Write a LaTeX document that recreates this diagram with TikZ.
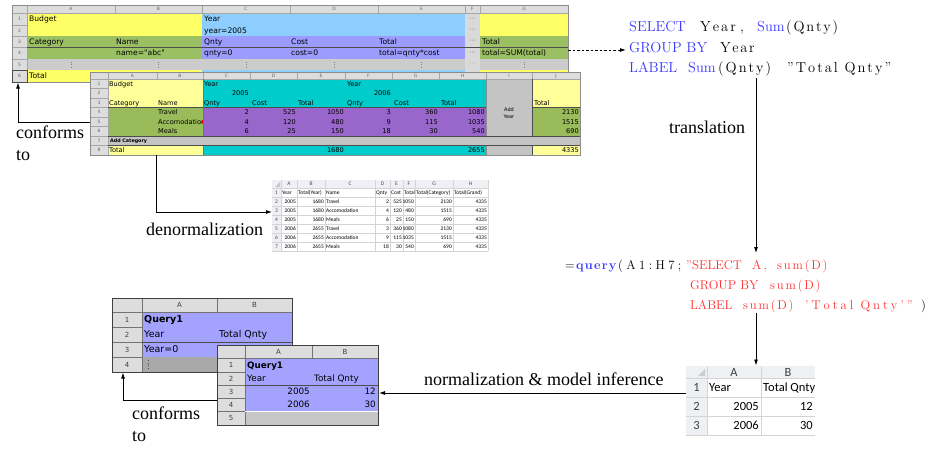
\documentclass[tikz,border=0pt]{standalone}
\usepackage{fontspec}
\usetikzlibrary{arrows.meta}
\newfontfamily\dvs{DejaVu Sans}
\newfontfamily\carl{Carlito}
\newfontfamily\tms{Liberation Serif}

% spread the characters of a word apart, listing style
\makeatletter
\newdimen\lspk
\newcommand\lsp[2]{\lspk=#1pt\relax\lsp@a#2\@nil}
\def\lsp@a#1{\ifx#1\@nil\else#1\kern\lspk\expandafter\lsp@a\fi}
\makeatother

\definecolor{yelA}{HTML}{FFFF66}
\definecolor{bluA}{HTML}{8ECEFF}
\definecolor{grnA}{HTML}{9BC063}
\definecolor{lavA}{HTML}{9C9CFF}
\definecolor{gryA}{HTML}{CCCCCC}
\definecolor{dotA}{HTML}{D9D9D9}
\definecolor{yelB}{HTML}{FFFF99}
\definecolor{cyaB}{HTML}{00CCCC}
\definecolor{purB}{HTML}{9966CC}
\definecolor{grnB}{HTML}{99BB59}
\definecolor{gryB}{HTML}{C4C4C4}
\definecolor{lavC}{HTML}{A3A3FF}
\definecolor{gryC}{HTML}{A8A8A8}
\definecolor{gryD}{HTML}{C6C6C6}
\definecolor{hdrO}{HTML}{DDDDDD}
\definecolor{hdrX}{HTML}{EEF0F3}
\definecolor{gridX}{HTML}{D4D4D4}
\definecolor{kwblue}{HTML}{3838FF}
\definecolor{strred}{HTML}{FF3030}

\begin{document}
\begin{tikzpicture}[x=1pt,y=-1pt,
  oo/.style={font=\dvs\fontsize{7.6}{9}\selectfont, inner sep=0pt, anchor=west, text height=5.5pt, text depth=0pt},
  ooB/.style={font=\dvs\fontsize{6.6}{8}\selectfont, inner sep=0pt, anchor=west, text height=4.8pt, text depth=0pt},
  ooBR/.style={ooB, anchor=east},
  hdrtxt/.style={font=\dvs\fontsize{4.5}{5}\selectfont, text=black!60, inner sep=0pt, text height=3.3pt, text depth=0pt},
  ell/.style={font=\dvs\fontsize{6}{7}\selectfont, text=black!60, inner sep=0pt},
  xs/.style={font=\carl\fontsize{5.5}{6}\selectfont, inner sep=0pt, text height=3.6pt, text depth=0pt},
  xl/.style={font=\carl\fontsize{12.5}{14}\selectfont, inner sep=0pt, text height=8pt, text depth=0pt},
  qa/.style={font=\dvs\fontsize{9.5}{11}\selectfont, inner sep=0pt, anchor=west, text height=6.9pt, text depth=0pt},
  qb/.style={font=\dvs\fontsize{8.8}{10}\selectfont, inner sep=0pt, anchor=west, text height=6.4pt, text depth=0pt},
  qh/.style={font=\dvs\fontsize{7}{8}\selectfont, text=black!75, inner sep=0pt, text height=5pt, text depth=0pt},
  lbl/.style={font=\tms\fontsize{18}{22}\selectfont, inner sep=0pt},
  sql/.style={font=\fontsize{14.5}{17}\selectfont, inner sep=0pt, anchor=base west},
  fml/.style={font=\fontsize{12.7}{15}\selectfont, inner sep=0pt, anchor=base west, text=strred},
  arr/.style={-{Latex[length=6pt,width=4pt]}, line width=0.8pt},
  hl/.style={black!35, line width=0.4pt},
  dk/.style={black!70, line width=0.6pt}]
\useasboundingbox (0,0) rectangle (929,448);

% ================= budget template sheet =================
\fill[hdrO] (12,5) rectangle (568,13);
\fill[hdrO] (12,13) rectangle (27,82);
\fill[yelA] (27,13) rectangle (202,36);
\fill[bluA] (202,13) rectangle (465,36);
\fill[yelA] (480,13) rectangle (568,36);
\fill[grnA] (27,36) rectangle (202,59);
\fill[lavA] (202,36) rectangle (465,59);
\fill[grnA] (480,36) rectangle (568,59);
\fill[gryA] (27,59) rectangle (465,70);
\fill[gryA] (480,59) rectangle (568,70);
\fill[dotA] (465,13) rectangle (480,82);
\fill[yelA] (27,70) rectangle (202,82);
\fill[bluA] (202,70) rectangle (465,82);
\fill[yelA] (480,70) rectangle (568,82);
\draw[hl] (12,13) -- (568,13);
\foreach \x in {27,115,202,290,378,465,480,568} \draw[hl] (\x,5) -- (\x,13);
\foreach \y in {25,36,47,59,70} \draw[hl] (12,\y) -- (27,\y);
\draw[hl] (27,13) -- (27,82);
\draw[dk] (27,47) -- (568,47);
\draw[black!45, line width=0.4pt] (12,5) rectangle (568,82);
\draw[black!70, line width=0.6pt] (12,70) rectangle (27,82);
\foreach \c/\x in {A/71,B/158.5,C/246,D/334,E/421.5,F/472.5,G/524}
  \node[hdrtxt] (s1c\c) at (\x,9) {\c};
\foreach \r/\y in {1/19,2/30.5,3/41.5,4/53,5/64.5,6/76}
  \node[hdrtxt] (s1r\r) at (19.5,\y) {\r};

\node[oo] (tBudget) at (29,19) {Budget};
\node[oo] (tYear) at (204,19) {Year};
\node[oo] (tYeq) at (204,30.5) {year=2005};
\node[oo] (tCat) at (29,41.5) {Category};
\node[oo] (tName) at (116,41.5) {Name};
\node[oo] (tQnty) at (204,41.5) {Qnty};
\node[oo] (tCost) at (291,41.5) {Cost};
\node[oo] (tTot) at (379,41.5) {Total};
\node[oo] (tGTot) at (482,41.5) {Total};
\node[oo] (tNeq) at (116,53) {name="abc"};
\node[oo] (tQeq) at (204,53) {qnty=0};
\node[oo] (tCeq) at (291,53) {cost=0};
\node[oo] (tTeq) at (379,53) {total=qnty*cost};
\node[oo] (tSeq) at (482,53) {total=SUM(total)};
\node[oo] (tTotal) at (29,76) {Total};
\foreach \y [count=\i] in {19,30.5,41.5,53}
  \node[ell] (s1f\i) at (472.5,\y) {⋯};
\node[ell, text=black!30] (s1f5) at (472.5,64.5) {⋯};
\foreach \x in {71,158.5,246,334,421.5,524}
  \draw[black!50, dotted, line width=0.6pt] (\x,61.5) -- (\x,68);

% ================= filled-in budget sheet =================
\fill[hdrO] (90,72) rectangle (580,79);
\fill[hdrO] (90,79) rectangle (108,155);
\fill[yelB] (108,79) rectangle (203,107.5);
\fill[cyaB] (203,79) rectangle (486,107.5);
\fill[gryB] (486,79) rectangle (532,136);
\fill[yelB] (532,79) rectangle (580,107.5);
\fill[grnB] (108,107.5) rectangle (203,136);
\fill[purB] (203,107.5) rectangle (486,136);
\fill[grnB] (532,107.5) rectangle (580,136);
\fill[gryB] (108,136) rectangle (580,145.5);
\fill[yelB] (108,145.5) rectangle (203,155);
\fill[cyaB] (203,145.5) rectangle (486,155);
\fill[gryB] (486,145.5) rectangle (532,155);
\fill[yelB] (532,145.5) rectangle (580,155);
\draw[hl] (90,79) -- (580,79);
\foreach \x in {108,157,203,250,297,345,392,439,486,532,580} \draw[hl] (\x,72) -- (\x,79);
\foreach \y in {88.5,98,107.5,117,126.5,136,145.5} \draw[hl] (90,\y) -- (108,\y);
\draw[hl] (108,79) -- (108,155);
\draw[dk] (108,107.5) -- (486,107.5);
\draw[dk] (532,107.5) -- (580,107.5);
\draw[dk] (108,136) -- (580,136);
\draw[dk] (108,145.5) -- (580,145.5);
\draw[black!55, line width=0.4pt] (203,79) -- (203,136) (203,145.5) -- (203,155);
\draw[dk] (532,79) -- (532,136) (532,145.5) -- (532,155);
\draw[black!45, line width=0.4pt] (486,79) -- (486,136) (486,145.5) -- (486,155);
\draw[black!45, line width=0.4pt] (90,72) rectangle (580,155);
\foreach \c/\x in {A/132.5,B/180,C/226.5,D/273.5,E/321,F/368.5,G/415.5,H/462.5,I/509,J/556}
  \node[hdrtxt] (s2c\c) at (\x,75.5) {\c};
\foreach \r in {1,...,8}
  \node[hdrtxt] (s2r\r) at (99,{74.25+9.5*\r}) {\r};

\node[ooB] (bBudget) at (109,83.75) {Budget};
\node[ooB] (bYear1) at (204,83.75) {Year};
\node[ooB] (bYear2) at (347,83.75) {Year};
\node[ooBR] (b2005) at (249,93.25) {2005};
\node[ooBR] (b2006) at (391,93.25) {2006};
\node[ooB] (bCat) at (109,102.75) {Category};
\node[ooB] (bName) at (158,102.75) {Name};
\node[ooB] (bQ1) at (204,102.75) {Qnty};
\node[ooB] (bC1) at (252,102.75) {Cost};
\node[ooB] (bT1) at (298,102.75) {Total};
\node[ooB] (bQ2) at (347,102.75) {Qnty};
\node[ooB] (bC2) at (394,102.75) {Cost};
\node[ooB] (bT2) at (441,102.75) {Total};
\node[ooB] (bTJ) at (534,102.75) {Total};
\node[ooB] (bTravel) at (158,112.25) {Travel};
\begin{scope}
  \clip (157,117) rectangle (202.5,126.5);
  \node[ooB] (bAcc) at (158,121.75) {Accomodation};
\end{scope}
\fill[red] (203,120) -- (203,123.5) -- (200.5,121.75) -- cycle;
\node[ooB] (bMeals) at (158,131.25) {Meals};
\foreach \x/\a/\b/\c in {249/2/4/6, 296/525/120/25, 344/1050/480/150, 391/3/9/18,
    438/360/115/30, 485/1080/1035/540, 579/2130/1515/690} {
  \node[ooBR] (v\x a) at (\x,112.25) {\a};
  \node[ooBR] (v\x b) at (\x,121.75) {\b};
  \node[ooBR] (v\x c) at (\x,131.25) {\c};
}
\node[ooB, font=\dvs\bfseries\fontsize{4.8}{6}\selectfont, text height=3.5pt] (bAddCat) at (110,140.75) {Add Category};
\node[ooB, anchor=center, align=center, font=\dvs\fontsize{5}{7}\selectfont] (bAddYear) at (509,116.5) {Add\\Year};
\node[ooB] (bTotal) at (109,150.25) {Total};
\node[ooBR] (b1680) at (344,150.25) {1680};
\node[ooBR] (b2655) at (485,150.25) {2655};
\node[ooBR] (b4335) at (579,150.25) {4335};

% ================= denormalized table =================
\fill[white] (272,180) rectangle (488,251);
\fill[hdrX] (272,180) rectangle (488,188);
\fill[hdrX] (272,188) rectangle (281,251);
\foreach \x in {281,297,325,375,390,403,415,453,488} \draw[gridX, line width=0.35pt] (\x,180) -- (\x,251);
\foreach \y in {188,197,206,215,224,233,242,251} \draw[gridX, line width=0.35pt] (272,\y) -- (488,\y);
\fill[black!22] (280,187) -- (280,182) -- (275,187) -- cycle;
\foreach \c/\x in {A/289,B/311,C/350,D/382.5,E/396.5,F/409,G/434,H/470.5}
  \node[xs, text=black!70] (dc\c) at (\x,184) {\c};
\foreach \r in {1,...,7}
  \node[xs, text=black!70] (dr\r) at (276.5,{183.5+9*\r}) {\r};
\node[xs, anchor=west] (dh1) at (282,192.5) {Year};
\node[xs, anchor=west] (dh2) at (298,192.5) {Total(Year)};
\node[xs, anchor=west] (dh3) at (326,192.5) {Name};
\node[xs, anchor=west] (dh4) at (376,192.5) {Qnty};
\node[xs, anchor=west] (dh5) at (391,192.5) {Cost};
\node[xs, anchor=west] (dh6) at (404,192.5) {Total};
\node[xs, anchor=west] (dh7) at (416,192.5) {Total(Category)};
\node[xs, anchor=west] (dh8) at (454,192.5) {Total(Grand)};
\foreach \rr/\yr/\ty/\nm/\vq/\vc/\vt/\vg in {
    2/2005/1680/Travel/2/525/1050/2130,
    3/2005/1680/Accomodation/4/120/480/1515,
    4/2005/1680/Meals/6/25/150/690,
    5/2006/2655/Travel/3/360/1080/2130,
    6/2006/2655/Accomodation/9/115/1035/1515,
    7/2006/2655/Meals/18/30/540/690} {
  \node[xs, anchor=east] (d\rr a) at (296,{183.5+9*\rr}) {\yr};
  \node[xs, anchor=east] (d\rr b) at (324,{183.5+9*\rr}) {\ty};
  \node[xs, anchor=west] (d\rr c) at (326,{183.5+9*\rr}) {\nm};
  \node[xs, anchor=east] (d\rr d) at (389,{183.5+9*\rr}) {\vq};
  \node[xs, anchor=east] (d\rr e) at (402,{183.5+9*\rr}) {\vc};
  \node[xs, anchor=east] (d\rr f) at (414,{183.5+9*\rr}) {\vt};
  \node[xs, anchor=east] (d\rr g) at (452,{183.5+9*\rr}) {\vg};
  \node[xs, anchor=east] (d\rr h) at (487,{183.5+9*\rr}) {4335};
}

% ================= query template sheet =================
\fill[hdrO] (112,298) rectangle (292,312);
\fill[hdrO] (112,312) rectangle (142,372);
\fill[lavC] (142,312) rectangle (292,357);
\fill[gryC] (142,357) rectangle (292,372);
\draw[black!55, line width=0.5pt] (112,312) -- (292,312);
\foreach \x in {142,217} \draw[black!55, line width=0.5pt] (\x,298) -- (\x,312);
\foreach \y in {327,342,357} \draw[black!55, line width=0.5pt] (112,\y) -- (142,\y);
\draw[black!55, line width=0.5pt] (142,298) -- (142,372);
\draw[dk] (142,342) -- (292,342);
\draw[black!75, line width=0.7pt] (112,298) rectangle (292,372);
\node[qh] (qcA) at (179.5,305) {A};
\node[qh] (qcB) at (254.5,305) {B};
\foreach \r in {1,...,4} \node[qh] (qr\r) at (127,{304.5+15*\r}) {\r};
\node[qa, font=\dvs\bfseries\fontsize{9.5}{11}\selectfont] (qQuery) at (144,319.5) {Query1};
\node[qa] (qYear) at (144,334.5) {Year};
\node[qa] (qTQ) at (219,334.5) {Total Qnty};
\node[qa] (qYeq) at (144,349.5) {Year=0};
\draw[black!70, dotted, line width=0.7pt] (148,360) -- (148,369);

% ================= query result sheet =================
\fill[hdrO] (217,345) rectangle (378,358);
\fill[hdrO] (217,358) rectangle (245,425);
\fill[lavC] (245,358) rectangle (378,411);
\fill[gryD] (245,411) rectangle (378,425);
\draw[black!55, line width=0.5pt] (217,358) -- (378,358);
\foreach \x in {245,312} \draw[black!55, line width=0.5pt] (\x,345) -- (\x,358);
\foreach \y in {372,385,398,411} \draw[black!55, line width=0.5pt] (217,\y) -- (245,\y);
\draw[black!55, line width=0.5pt] (245,345) -- (245,425);
\draw[dk] (245,385) -- (378,385);
\draw[white, line width=0.6pt] (245,411) -- (378,411);
\draw[black!75, line width=0.7pt] (217,345) rectangle (378,425);
\node[qh] (rcA) at (278.5,351.5) {A};
\node[qh] (rcB) at (345,351.5) {B};
\foreach \r/\y in {1/365,2/378.5,3/391.5,4/404.5,5/418} \node[qh] (rr\r) at (231,\y) {\r};
\node[qb, font=\dvs\bfseries\fontsize{8.8}{10}\selectfont] (rQuery) at (247,365) {Query1};
\node[qb] (rYear) at (247,378.5) {Year};
\node[qb] (rTQ) at (314,378.5) {Total Qnty};
\node[qb, anchor=east] (r2005) at (310,391.5) {2005};
\node[qb, anchor=east] (r12) at (376,391.5) {12};
\node[qb, anchor=east] (r2006) at (310,404.5) {2006};
\node[qb, anchor=east] (r30) at (376,404.5) {30};

% ================= result table =================
\fill[white] (686,366) rectangle (815,435);
\fill[hdrX] (686,366) rectangle (815,378);
\fill[hdrX] (686,378) rectangle (707,435);
\foreach \x in {707,761} \draw[gridX, line width=0.5pt] (\x,366) -- (\x,435);
\foreach \y in {378,397,416,435} \draw[gridX, line width=0.5pt] (686,\y) -- (815,\y);
\fill[black!20] (705,376) -- (705,369) -- (698,376) -- cycle;
\node[xl, text=black!75] (xcA) at (734,372) {A};
\node[xl, text=black!75] (xcB) at (788,372) {B};
\foreach \r/\y in {1/387.5,2/406.5,3/425.5} \node[xl, text=black!75] (xr\r) at (696.5,\y) {\r};
\node[xl, anchor=west] (xYear) at (709,387.5) {Year};
\begin{scope}
  \clip (761,378) rectangle (815,397);
  \node[xl, anchor=west] (xTQ) at (763,387.5) {Total Qnty};
\end{scope}
\node[xl, anchor=east] (x2005) at (759,406.5) {2005};
\node[xl, anchor=east] (x12) at (813,406.5) {12};
\node[xl, anchor=east] (x2006) at (759,425.5) {2006};
\node[xl, anchor=east] (x30) at (813,425.5) {30};

% ================= query language =================
\node[sql, text=kwblue] (sSel) at (629,31) {SELECT};
\node[sql] (sYear) at (700,31) {\lsp{2}{Year}};
\node[sql] (sComma) at (740,31) {,};
\node[sql, text=kwblue] (sSum1) at (757,31) {Sum};
\node[sql] (sQ1) at (786,31) {\lsp{1.8}{(Qnty)}};
\node[sql, text=kwblue] (sGrp) at (629,52) {GROUP BY};
\node[sql] (sYear2) at (720,52) {\lsp{1.6}{Year}};
\node[sql, text=kwblue] (sLab) at (629,72) {LABEL};
\node[sql, text=kwblue] (sSum2) at (688,72) {Sum};
\node[sql] (sQ2) at (718,72) {\lsp{2}{(Qnty)}};
\node[sql] (sStr) at (787,72) {\lsp{2}{”Total}\ \lsp{2}{Qnty”}};

% ================= spreadsheet formula =================
\node[fml, text=black] (fEq) at (565,269.5) {=};
\node[fml, text=kwblue, font=\bfseries\fontsize{12.7}{15}\selectfont] (fQuery) at (576,269.5) {\lsp{1.2}{query}};
\node[fml, text=black] (fRange) at (618,269.5) {\lsp{3.4}{(A1:H7;}};
\node[fml] (fQuote) at (686,269.5) {”};
\node[fml] (fSel) at (692,269.5) {SELECT};
\node[fml] (fA) at (752,269.5) {\lsp{2}{A,}};
\node[fml] (fSum1) at (777,269.5) {\lsp{1.8}{sum(D)}};
\node[fml] (fGrp) at (690,289.5) {GROUP BY};
\node[fml] (fSum2) at (770,289.5) {\lsp{1.8}{sum(D)}};
\node[fml] (fLab) at (690,309.5) {LABEL};
\node[fml] (fSum3) at (743,309.5) {\lsp{1.8}{sum(D)}};
\node[fml] (fStr) at (805,309.5) {\lsp{3}{'Total}\ \lsp{3}{Qnty'”}};
\node[fml, text=black] (fClose) at (921,309.5) {)};

% ================= connectors and labels =================
\coordinate (c1from) at (90,122);
\coordinate (c1to) at (18,82.5);
\draw[arr] (c1from) -| (c1to);
\node[lbl, anchor=north west, align=left] (conf1) at (16,125.5) {conforms\\to};

\coordinate (dnfrom) at (156,155);
\coordinate (dnto) at (272,212);
\draw[arr] (dnfrom) |- (dnto);
\node[lbl, anchor=base west] (denorm) at (146,235) {denormalization};

\coordinate (g4) at (568,50);
\coordinate (sqlin) at (626,50);
\draw[arr, dash pattern=on 2.5pt off 2pt] (g4) -- (sqlin);

\coordinate (sqlout) at (756,78);
\coordinate (fmlin) at (756,253);
\draw[arr] (sqlout) -- (fmlin);
\node[lbl, anchor=base west] (transl) at (669,133) {translation};

\coordinate (fmlout) at (756,313);
\coordinate (tabin) at (756,365.5);
\draw[arr] (fmlout) -- (tabin);

\coordinate (tabout) at (686,393);
\coordinate (resin) at (379,393);
\draw[arr] (tabout) -- (resin);
\node[lbl, anchor=base west] (norm) at (424,385) {normalization \& model inference};

\coordinate (c2from) at (217,400);
\coordinate (c2to) at (123,372.5);
\draw[arr] (c2from) -| (c2to);
\node[lbl, anchor=north west, align=left] (conf2) at (132,407) {conforms\\to};
\end{tikzpicture}
\end{document}
